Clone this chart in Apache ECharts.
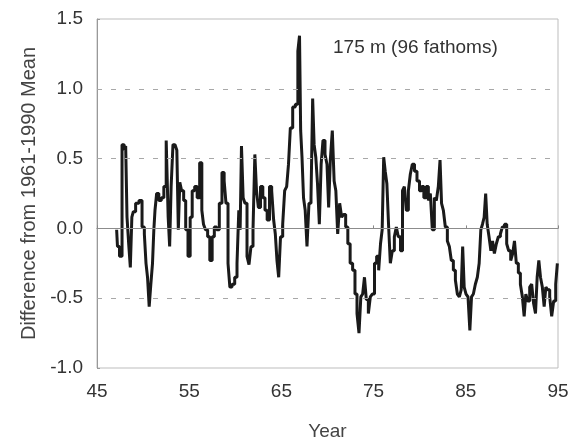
<!DOCTYPE html>
<html><head><meta charset="utf-8">
<script src="https://cdn.jsdelivr.net/npm/echarts@6/dist/echarts.min.js"></script>
<style>html,body{margin:0;padding:0;background:#fff}#c{width:580px;height:440px}</style>
</head><body><div id="c"></div>
<script>
const years = [47.13,47.31,47.57,47.86,48.04,48.18,48.33,48.54,48.69,48.87,49.01,49.37,49.74,50.03,50.24,50.39,50.57,50.75,50.93,51.11,51.22,51.36,51.58,51.83,52.12,52.38,52.63,52.81,52.95,53.13,53.35,53.57,53.75,53.89,54.07,54.29,54.51,54.73,55.01,55.20,55.45,55.74,55.99,56.28,56.46,56.64,56.89,57.11,57.36,57.62,57.83,58.12,58.41,58.70,58.88,59.10,59.32,59.50,59.79,60.08,60.29,60.47,60.58,60.76,60.94,61.16,61.38,61.59,61.81,62.03,62.21,62.39,62.61,62.86,63.11,63.33,63.58,63.84,64.05,64.27,64.41,64.63,64.78,65.03,65.25,65.46,65.68,65.86,66.08,66.37,66.66,66.91,67.02,67.16,67.31,67.49,67.67,67.88,68.10,68.32,68.46,68.64,68.82,69.01,69.22,69.40,69.62,69.84,70.05,70.20,70.41,70.63,70.81,71.00,71.21,71.43,71.64,71.86,72.08,72.33,72.58,72.87,73.09,73.31,73.52,73.71,73.92,74.10,74.32,74.54,74.75,74.97,75.22,75.44,75.66,75.84,76.02,76.17,76.35,76.53,76.71,76.92,77.14,77.36,77.57,77.79,78.04,78.23,78.44,78.66,78.88,79.09,79.31,79.56,79.85,80.11,80.32,80.58,80.83,81.05,81.26,81.48,81.70,81.91,82.13,82.28,82.46,82.67,82.89,83.11,83.32,83.54,83.76,83.98,84.19,84.41,84.59,84.73,84.92,85.13,85.35,85.53,85.71,85.93,86.14,86.36,86.54,86.72,86.90,87.08,87.23,87.41,87.63,87.81,87.99,88.21,88.42,88.64,88.86,89.07,89.33,89.54,89.76,89.98,90.19,90.37,90.59,90.81,91.03,91.24,91.42,91.60,91.82,92.04,92.25,92.47,92.65,92.83,93.01,93.19,93.41,93.59,93.77,93.99,94.21,94.42,94.64,94.86,95.00];
const values = [-0.01,-0.13,-0.20,0.60,0.56,0.59,0.08,-0.11,-0.28,0.08,0.12,0.18,0.20,0.01,-0.04,-0.25,-0.35,-0.56,-0.40,-0.25,-0.01,0.13,0.25,0.20,0.22,0.30,0.63,0.08,-0.13,0.30,0.60,0.59,0.56,-0.01,0.33,0.27,0.20,-0.01,-0.20,0.08,0.27,0.30,0.22,0.47,0.13,0.03,-0.01,-0.06,-0.23,-0.06,0.01,-0.01,0.18,0.40,0.34,0.18,-0.25,-0.42,-0.40,-0.35,-0.25,0.13,-0.01,0.59,0.22,0.18,-0.20,-0.26,-0.13,-0.01,0.53,0.27,0.15,0.30,0.22,0.13,0.06,0.30,0.27,0.06,-0.04,-0.23,-0.35,-0.06,0.03,0.27,0.30,0.46,0.72,0.87,0.89,1.27,1.38,0.70,0.51,0.22,0.13,-0.13,0.18,0.22,0.93,0.60,0.51,0.32,0.03,0.46,0.63,0.53,0.46,0.15,0.49,0.70,0.34,0.27,-0.04,0.18,0.08,0.10,0.01,-0.11,-0.25,-0.30,-0.47,-0.61,-0.75,-0.49,-0.47,-0.35,-0.51,-0.61,-0.49,-0.47,-0.25,-0.20,-0.30,-0.11,-0.01,0.51,0.41,0.32,0.03,-0.25,-0.16,-0.06,0.01,-0.06,-0.16,0.27,0.30,0.13,0.27,0.39,0.46,0.41,0.34,0.27,0.30,0.22,0.30,0.20,0.25,-0.01,0.22,0.20,0.30,0.49,0.18,0.13,0.01,-0.09,-0.13,-0.23,-0.30,-0.37,-0.47,-0.49,-0.44,-0.13,-0.42,-0.47,-0.49,-0.73,-0.49,-0.47,-0.40,-0.35,-0.25,-0.01,0.03,0.08,0.25,0.03,-0.06,-0.16,-0.09,-0.18,-0.11,-0.06,-0.04,0.01,0.03,-0.11,-0.16,-0.23,-0.18,-0.09,-0.25,-0.32,-0.40,-0.49,-0.63,-0.47,-0.52,-0.42,-0.40,-0.54,-0.61,-0.35,-0.23,-0.35,-0.42,-0.56,-0.42,-0.44,-0.49,-0.63,-0.52,-0.40,-0.25];
const xTicks = [45,55,65,75,85,95];
const dashedGrid = [1.0, 0.5, -0.5];
const zeroLine = [0];

const FONT = '"Liberation Sans", Arial, Helvetica, sans-serif';
const chart = echarts.init(document.getElementById('c'));
const seriesData = years.map((y, i) => [y, values[i]]);
chart.setOption({
  backgroundColor: '#ffffff',
  animation: false,
  grid: { left: 97, right: 22, top: 19, bottom: 72, outerBoundsMode: 'none', containLabel: false, show: true, borderColor: '#bdbdbd', borderWidth: 1, backgroundColor: 'transparent' },
  xAxis: {
    type: 'value', min: 45, max: 95,
    name: 'Year', nameLocation: 'middle', nameGap: 54,
    nameTextStyle: { fontFamily: FONT, fontSize: 19, color: '#444' },
    axisLine: { show: true, lineStyle: { color: '#777', width: 1 } },
    axisTick: { show: true, inside: true, length: 3, customValues: xTicks, lineStyle: { color: '#888' } },
    axisLabel: { customValues: xTicks, margin: 14, fontFamily: FONT, fontSize: 19, color: '#333' },
    splitLine: { show: false }
  },
  yAxis: {
    type: 'value', min: -1, max: 1.5, interval: 0.5,
    name: 'Difference from 1961-1990 Mean', nameLocation: 'middle', nameGap: 58,
    nameTextStyle: { fontFamily: FONT, fontSize: 20, color: '#444' },
    axisLine: { show: true, lineStyle: { color: '#999', width: 1 } },
    axisTick: { show: true, inside: true, length: 3, lineStyle: { color: '#999' } },
    axisLabel: { margin: 14, fontFamily: FONT, fontSize: 19, color: '#333', formatter: v => v.toFixed(1) },
    splitLine: { show: false }
  },
  graphic: [{
    type: 'text', left: 333, top: 38, z: 10,
    style: { text: '175 m (96 fathoms)', fontFamily: FONT, fontSize: 19, fill: '#333' }
  }],
  series: [
    {
      type: 'line', data: [], z: 1, silent: true,
      markLine: {
        silent: true, symbol: 'none', label: { show: false }, animation: false,
        data: dashedGrid.map(v => ({ yAxis: v, lineStyle: { type: [5, 9], color: '#a8a8a8', width: 1 } }))
          .concat(zeroLine.map(v => ({ yAxis: v, lineStyle: { type: 'solid', color: '#8c8c8c', width: 1 } })))
      }
    },
    {
      type: 'line', data: seriesData, step: 'middle', showSymbol: false, z: 3,
      lineStyle: { color: '#1a1a1a', width: 3 }
    }
  ]
});
</script>
</body></html>
